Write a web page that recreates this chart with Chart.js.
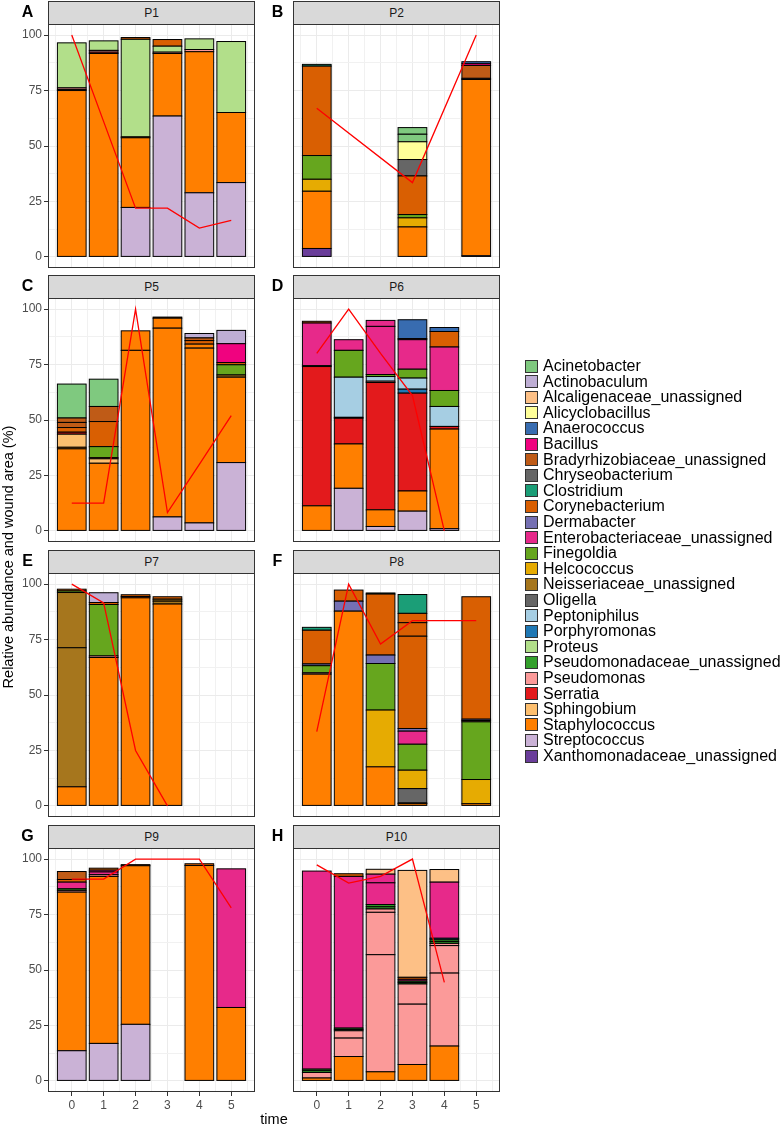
<!DOCTYPE html>
<html lang="en">
<head>
<meta charset="UTF-8">
<title>Relative abundance and wound area per patient</title>
<script src="https://cdn.jsdelivr.net/npm/chart.js"></script>
<style>
    body { margin: 0; background: #fff; font-family: 'Liberation Sans', Arial, sans-serif; }
    #page { position: relative; width: 782px; height: 1125px; overflow: hidden; }
    #page canvas { position: absolute; }
    .strip {
        position: absolute; box-sizing: border-box; height: 24px;
        background: #d9d9d9; border: 1px solid #333;
        font-size: 12px; color: #1a1a1a; text-align: center; line-height: 22px;
    }
    .tag { position: absolute; font-size: 16px; font-weight: bold; transform: translate(-50%, -50%); }
    .axis-title { position: absolute; font-size: 14.5px; color: #000; white-space: nowrap; }
    .legend-row { position: absolute; left: 525px; height: 16px; font-size: 16px; line-height: 16px; white-space: nowrap; }
    .legend-row span.key {
        position: absolute; left: 0; top: 1.5px; width: 13px; height: 13px;
        box-sizing: border-box; border: 1px solid #333;
    }
    .legend-row span.txt { position: absolute; left: 18px; top: 0; }
</style>
</head>
<body>
<div id="page"></div>

<script>
const _ = null;

const genera = ['Acinetobacter', 'Actinobaculum', 'Alcaligenaceae_unassigned', 'Alicyclobacillus',
    'Anaerococcus', 'Bacillus', 'Bradyrhizobiaceae_unassigned', 'Chryseobacterium', 'Clostridium',
    'Corynebacterium', 'Dermabacter', 'Enterobacteriaceae_unassigned', 'Finegoldia', 'Helcococcus',
    'Neisseriaceae_unassigned', 'Oligella', 'Peptoniphilus', 'Porphyromonas', 'Proteus',
    'Pseudomonadaceae_unassigned', 'Pseudomonas', 'Serratia', 'Sphingobium', 'Staphylococcus',
    'Streptococcus', 'Xanthomonadaceae_unassigned'];
const genusColours = ['#7fc97f', '#beaed4', '#fdc086', '#ffff99', '#386cb0', '#f0027f', '#bf5b17',
    '#666666', '#1b9e77', '#d95f02', '#7570b3', '#e7298a', '#66a61e', '#e6ab02', '#a6761d', '#666666',
    '#a6cee3', '#1f78b4', '#b2df8a', '#33a02c', '#fb9a99', '#e31a1c', '#fdbf6f', '#ff7f00', '#cab2d6',
    '#6a3d9a'];

const times = [0, 1, 2, 3, 4, 5];
const xMinor = [-0.5, 0.5, 1.5, 2.5, 3.5, 4.5, 5.5];
const yMajor = [0, 25, 50, 75, 100];
const yMinor = [12.5, 37.5, 62.5, 87.5];

const panelIds = ['P1', 'P2', 'P5', 'P6', 'P7', 'P8', 'P9', 'P10'];
const panelTags = ['A', 'B', 'C', 'D', 'E', 'F', 'G', 'H'];

// one row per OTU: [genus, abundance at time 0..5]; a genus can occur twice
const p1Rows = [
    ['Streptococcus', [_, _, 22.3, 63.5, 28.9, 33.5]],
    ['Staphylococcus', [75, 91.7, 31.4, 28.2, 63.6, 31.6]],
    ['Sphingobium', [0.5, _, 0.4, _, _, _]],
    ['Serratia', [_, 0.6, _, _, _, _]],
    ['Pseudomonas', [0.7, 0.8, _, 0.6, 1, _]],
    ['Proteus', [20.3, 4.3, 44, 2.7, 4.8, 32]],
    ['Corynebacterium', [_, _, 0.8, 3, _, _]]
];
const p1Wound = [100, 61, 22, 22, 13, 16.5];

const p2Rows = [
    ['Xanthomonadaceae_unassigned', [3.8, _, _, _, _, _]],
    ['Streptococcus', [_, _, _, _, _, 0.5]],
    ['Staphylococcus', [25.8, _, _, 13.5, _, 79.5]],
    ['Pseudomonas', [_, _, _, _, _, 0.5]],
    ['Helcococcus', [5.4, _, _, 4.1, _, _]],
    ['Finegoldia', [10.7, _, _, 1.5, _, _]],
    ['Corynebacterium', [40.3, _, _, 17.4, _, _]],
    ['Clostridium', [0.8, _, _, _, _, _]],
    ['Chryseobacterium', [_, _, _, 7.4, _, _]],
    ['Bradyrhizobiaceae_unassigned', [_, _, _, _, _, 5.8]],
    ['Bacillus', [_, _, _, _, _, 0.8]],
    ['Anaerococcus', [_, _, _, _, _, 0.9]],
    ['Alicyclobacillus', [_, _, _, 8, _, _]],
    ['Acinetobacter', [_, _, _, 3.4, _, _]],
    ['Acinetobacter', [_, _, _, 3, _, _]]
];
const p2Wound = [67, _, _, 33.5, _, 100];

const p5Rows = [
    ['Streptococcus', [_, _, _, 6.3, 3.6, 30.8]],
    ['Staphylococcus', [37, 30.5, 81.4, 85.1, 78.8, 38.5]],
    ['Staphylococcus', [0.7, _, 8.8, 4.5, 1.8, _]],
    ['Sphingobium', [5.9, 2, _, _, _, _]],
    ['Serratia', [0.9, 0.5, _, _, _, _]],
    ['Neisseriaceae_unassigned', [_, _, _, _, _, 1]],
    ['Finegoldia', [_, 5, _, _, _, 4.6]],
    ['Corynebacterium', [2.1, 11.3, _, 0.5, 1.6, 1]],
    ['Bradyrhizobiaceae_unassigned', [2.3, 6.8, _, _, 1.2, _]],
    ['Bradyrhizobiaceae_unassigned', [2, _, _, _, _, _]],
    ['Bacillus', [_, _, _, _, _, 8.5]],
    ['Actinobaculum', [_, _, _, _, 2, 6]],
    ['Acinetobacter', [15.3, 12.3, _, _, _, _]]
];
const p5Wound = [12.5, 12.5, 100, 8.3, 30, 52];

const p6Rows = [
    ['Streptococcus', [_, 19.2, 2, 8.9, 1, _]],
    ['Staphylococcus', [11.3, 20, 7.5, 9.1, 44.9, _]],
    ['Serratia', [62.8, 11.6, 57.4, 44.1, 1.2, _]],
    ['Pseudomonas', [_, _, 0.6, _, _, _]],
    ['Porphyromonas', [_, 0.4, _, 1.8, _, _]],
    ['Peptoniphilus', [_, 18.1, 2.1, 5, 9, _]],
    ['Finegoldia', [0.4, 12.1, 0.9, 4, 7.2, _]],
    ['Enterobacteriaceae_unassigned', [19.2, 4.8, 21.7, 13.3, 19.6, _]],
    ['Enterobacteriaceae_unassigned', [_, _, 2.7, _, _, _]],
    ['Corynebacterium', [0.8, _, _, 0.5, 7, _]],
    ['Anaerococcus', [_, _, _, 8.5, 1.8, _]]
];
const p6Wound = [80, 100, 80, 61, 0, _];

const p7Rows = [
    ['Staphylococcus', [8.6, 66.9, 93.8, 91, _, _]],
    ['Serratia', [_, _, 0.6, _, _, _]],
    ['Pseudomonas', [_, 0.7, _, _, _, _]],
    ['Neisseriaceae_unassigned', [62.7, _, _, 1.3, _, _]],
    ['Neisseriaceae_unassigned', [24.9, _, _, 0.9, _, _]],
    ['Finegoldia', [0.7, 23.2, _, _, _, _]],
    ['Corynebacterium', [0.8, 0.9, 0.8, 1.1, _, _]],
    ['Actinobaculum', [_, 4.4, _, _, _, _]]
];
const p7Wound = [100, 91.5, 25, 0, _, _];

const p8Rows = [
    ['Staphylococcus', [59.4, 87.8, 17.6, 1, _, 1]],
    ['Pseudomonas', [0.6, _, _, 0.3, _, _]],
    ['Oligella', [_, _, _, 6.5, _, _]],
    ['Helcococcus', [_, _, 25.6, 8.3, _, 10.9]],
    ['Finegoldia', [3.2, _, 21, 11.7, _, 26]],
    ['Enterobacteriaceae_unassigned', [_, _, _, 5.9, _, 0.6]],
    ['Dermabacter', [0.8, 4.5, 3.8, 1.2, _, 0.6]],
    ['Corynebacterium', [15.2, 5, 27.5, 41.6, _, 55.2]],
    ['Corynebacterium', [_, _, _, 6.1, _, _]],
    ['Corynebacterium', [_, _, _, 4.2, _, _]],
    ['Clostridium', [1.3, _, 0.5, 8.5, _, _]]
];
const p8Wound = [33.5, 100, 73, 83.5, _, 83.5];

const p9Rows = [
    ['Streptococcus', [13.6, 16.9, 25.5, _, _, _]],
    ['Staphylococcus', [71.5, 75.3, 71.5, _, 97.1, 33.1]],
    ['Pseudomonas', [0.8, 0.8, _, _, _, _]],
    ['Pseudomonadaceae_unassigned', [0.7, _, _, _, _, _]],
    ['Enterobacteriaceae_unassigned', [3, 1.2, _, _, _, 62.5]],
    ['Enterobacteriaceae_unassigned', [_, 0.8, _, _, _, _]],
    ['Corynebacterium', [1.2, 0.9, 0.5, _, 0.8, _]],
    ['Bradyrhizobiaceae_unassigned', [3.6, _, _, _, _, _]]
];
const p9Wound = [91, 91, 100, 100, 100, 78];

const p10Rows = [
    ['Staphylococcus', [1.3, 11, 4.1, 7.4, 15.7, _]],
    ['Pseudomonas', [2.5, 8.3, 52.8, 27.2, 32.9, _]],
    ['Pseudomonas', [_, 3.3, 19.1, 9.1, 12.4, _]],
    ['Pseudomonas', [_, _, 1.5, _, 1, _]],
    ['Pseudomonadaceae_unassigned', [0.8, 0.6, 1, 0.7, 0.8, _]],
    ['Pseudomonadaceae_unassigned', [0.7, 0.6, 1, 0.6, 0.8, _]],
    ['Porphyromonas', [_, _, _, _, 0.7, _]],
    ['Enterobacteriaceae_unassigned', [89.3, 68.4, 9.8, 0.8, 25.3, _]],
    ['Enterobacteriaceae_unassigned', [_, _, 3.9, _, _, _]],
    ['Corynebacterium', [_, 1.2, _, 0.9, _, _]],
    ['Alcaligenaceae_unassigned', [_, _, 2.2, 48.2, 5.7, _]]
];
const p10Wound = [97.4, 89.2, 92.2, 100, 44.4, _];

const panelRows = [p1Rows, p2Rows, p5Rows, p6Rows, p7Rows, p8Rows, p9Rows, p10Rows];
const panelWound = [p1Wound, p2Wound, p5Wound, p6Wound, p7Wound, p8Wound, p9Wound, p10Wound];

// layout of the facet grid (pixels)
const colLeft = [48, 293];
const rowTop = [24, 298, 573, 848];
const PANEL_W = 207, PANEL_H = 244, AXIS_W = 48, PAD = 10, X_LABEL_H = 28;

const page = document.getElementById('page');

const isXMajor = c => !!c.tick && Number.isInteger(c.tick.value);
const isYMajor = c => !!c.tick && yMajor.includes(c.tick.value);

// ggplot draws each stacked rectangle with a black outline centred on its edges
const barOutline = {
    id: 'barOutline',
    afterDatasetDraw(chart, args) {
        const meta = args.meta;
        if (meta.type !== 'bar') return;
        const ctx = chart.ctx;
        ctx.save();
        ctx.strokeStyle = '#000';
        ctx.lineWidth = 1;
        meta.data.forEach((bar, i) => {
            const parsed = meta._parsed[i];
            if (!parsed || parsed.y == null) return;
            const p = bar.getProps(['x', 'y', 'base', 'width'], true);
            if (!isFinite(p.y) || !isFinite(p.base)) return;
            ctx.strokeRect(p.x - p.width / 2, Math.min(p.y, p.base), p.width, Math.abs(p.base - p.y));
        });
        ctx.restore();
    }
};

const panelBorder = {
    id: 'panelBorder',
    afterDraw(chart) {
        const a = chart.chartArea, ctx = chart.ctx;
        ctx.save();
        ctx.strokeStyle = '#333';
        ctx.lineWidth = 1;
        ctx.strokeRect(a.left + 0.5, a.top + 0.5, a.right - a.left - 1, a.bottom - a.top - 1);
        ctx.restore();
    }
};

function barDatasets(rows) {
    // first genus in the legend ends up on top of the stack
    const sorted = rows.slice().sort((a, b) => genera.indexOf(b[0]) - genera.indexOf(a[0]));
    return sorted.map(([genus, vals]) => ({
        type: 'bar',
        label: genus,
        stack: 'abundance',
        order: 1,
        backgroundColor: genusColours[genera.indexOf(genus)],
        borderWidth: 0,
        categoryPercentage: 1,
        barPercentage: 1.8, // ruler uses the 0.5 spacing of the minor grid ticks -> 0.9 wide bars
        data: vals.map((v, i) => ({ x: times[i], y: v }))
    }));
}

function makePanel(idx) {
    const col = idx % 2, row = Math.floor(idx / 2);
    const bottomRow = row === rowTop.length - 1;
    const xh = bottomRow ? X_LABEL_H : PAD;

    const canvas = document.createElement('canvas');
    canvas.width = AXIS_W + PANEL_W + PAD;
    canvas.height = PAD + PANEL_H + xh;
    canvas.style.left = (colLeft[col] - AXIS_W) + 'px';
    canvas.style.top = (rowTop[row] - PAD) + 'px';
    page.appendChild(canvas);

    const strip = document.createElement('div');
    strip.className = 'strip';
    strip.style.left = colLeft[col] + 'px';
    strip.style.top = (rowTop[row] - 23) + 'px';
    strip.style.width = PANEL_W + 'px';
    strip.textContent = panelIds[idx];
    page.appendChild(strip);

    const tag = document.createElement('div');
    tag.className = 'tag';
    tag.style.left = (col === 0 ? 27.5 : 277.5) + 'px';
    tag.style.top = (rowTop[row] - 12) + 'px';
    tag.textContent = panelTags[idx];
    page.appendChild(tag);

    const tickFont = { family: "'Liberation Sans', Arial, sans-serif", size: 12 };

    new Chart(canvas, {
        type: 'bar',
        data: {
            datasets: [
                ...barDatasets(panelRows[idx]),
                {
                    type: 'line',
                    label: 'wound area',
                    stack: 'wound',
                    order: 0,
                    borderColor: '#ff0000',
                    borderWidth: 1.3,
                    pointRadius: 0,
                    tension: 0,
                    fill: false,
                    spanGaps: true,
                    data: panelWound[idx].map((v, i) => ({ x: times[i], y: v }))
                }
            ]
        },
        options: {
            responsive: false,
            animation: false,
            events: [],
            layout: { padding: { top: PAD, right: PAD, left: 0, bottom: 0 } },
            plugins: { legend: { display: false }, tooltip: { enabled: false } },
            scales: {
                x: {
                    type: 'linear',
                    min: -0.745,
                    max: 5.745,
                    offset: false,
                    stacked: true,
                    afterBuildTicks: s => {
                        s.ticks = times.concat(xMinor).sort((a, b) => a - b).map(v => ({ value: v }));
                    },
                    afterFit: s => { s.height = xh; },
                    border: { display: false },
                    grid: {
                        offset: false,
                        color: c => isXMajor(c) ? '#ebebeb' : '#f1f1f1',
                        lineWidth: 1,
                        tickLength: 4,
                        drawTicks: bottomRow,
                        tickColor: c => isXMajor(c) ? '#333' : 'rgba(0,0,0,0)'
                    },
                    ticks: {
                        display: bottomRow,
                        autoSkip: false,
                        maxRotation: 0,
                        padding: 2,
                        color: '#4d4d4d',
                        font: tickFont,
                        callback: v => Number.isInteger(v) ? String(v) : ''
                    }
                },
                y: {
                    type: 'linear',
                    min: -5,
                    max: 105,
                    stacked: true,
                    afterBuildTicks: s => {
                        s.ticks = yMajor.concat(yMinor).sort((a, b) => a - b).map(v => ({ value: v }));
                    },
                    afterFit: s => { s.width = AXIS_W; },
                    border: { display: false },
                    grid: {
                        color: c => isYMajor(c) ? '#ebebeb' : '#f1f1f1',
                        lineWidth: 1,
                        tickLength: 4,
                        drawTicks: col === 0,
                        tickColor: c => isYMajor(c) ? '#333' : 'rgba(0,0,0,0)'
                    },
                    ticks: {
                        display: col === 0,
                        padding: 2,
                        color: '#4d4d4d',
                        font: tickFont,
                        callback: v => yMajor.includes(v) ? String(v) : ''
                    }
                }
            }
        },
        plugins: [barOutline, panelBorder]
    });
}

panelIds.forEach((id, i) => makePanel(i));

// axis titles
const yTitle = document.createElement('div');
yTitle.className = 'axis-title';
yTitle.textContent = 'Relative abundance and wound area (%)';
yTitle.style.left = '8px';
yTitle.style.top = '557px';
yTitle.style.transform = 'translate(-50%, -50%) rotate(-90deg)';
page.appendChild(yTitle);

const xTitle = document.createElement('div');
xTitle.className = 'axis-title';
xTitle.textContent = 'time';
xTitle.style.left = '274px';
xTitle.style.top = '1119px';
xTitle.style.transform = 'translate(-50%, -50%)';
page.appendChild(xTitle);

// shared legend
genera.forEach((g, i) => {
    const row = document.createElement('div');
    row.className = 'legend-row';
    row.style.top = (366 - 8 + i * 15.6) + 'px';
    row.innerHTML = '<span class="key" style="background:' + genusColours[i] + '"></span><span class="txt">' + g + '</span>';
    page.appendChild(row);
});
</script>
</body>
</html>
